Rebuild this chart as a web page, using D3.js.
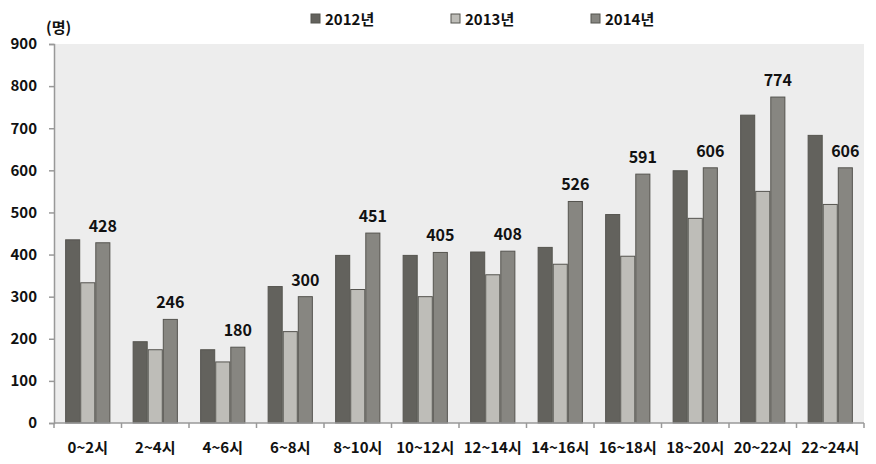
<!DOCTYPE html>
<html><head><meta charset="utf-8">
<script src="https://cdn.jsdelivr.net/npm/d3@7"></script>
<style>body{margin:0;background:#fff}svg{display:block}text{font-family:"Noto Sans CJK KR","Noto Sans",sans-serif;font-weight:bold;fill:#111}</style>
</head><body><svg id="c" width="876" height="464"></svg>
<script>
const categories=["0~2시","2~4시","4~6시","6~8시","8~10시","10~12시","12~14시","14~16시","16~18시","18~20시","20~22시","22~24시"];
const seriesNames=["2012년","2013년","2014년"];
const v2012=[435,193,174,324,398,398,406,417,495,599,731,683];
const v2013=[333,174,145,217,317,300,352,377,396,486,550,519];
const v2014=[428,246,180,300,451,405,408,526,591,606,774,606];
const yTicks=[0,100,200,300,400,500,600,700,800,900];
const colors=["#63625d","#bebdb8","#878681"];
const series=[v2012,v2013,v2014];

const svg=d3.select("#c");
const L=54,R=864,T=44,B=423;
const x=d3.scaleBand().domain(categories).range([L,R]).paddingInner(0.33).paddingOuter(0.165);
const band=d3.scaleBand().domain(d3.range(3)).range([0,x.bandwidth()]);
const y=d3.scaleLinear().domain([0,900]).range([B,T]);

svg.append("rect").attr("x",L).attr("y",T).attr("width",R-L).attr("height",B-T).attr("fill","#ededed");

// bars
const g=svg.append("g");
categories.forEach((c,i)=>{
  series.forEach((s,k)=>{
    g.append("rect").attr("x",x(c)+band(k)+0.5).attr("y",y(s[i])).attr("width",band.bandwidth()-1)
     .attr("height",B-y(s[i])).attr("fill",colors[k]).attr("stroke","#55544f").attr("stroke-width",1);
  });
  svg.append("text").attr("x",x(c)+band(2)+band.bandwidth()/2).attr("y",y(v2014[i])-11)
    .attr("text-anchor","middle").attr("font-size",16).text(v2014[i]);
});

// y axis
const ya=svg.append("g").attr("transform",`translate(${L},0)`)
  .call(d3.axisLeft(y).tickValues(yTicks).tickSize(5).tickPadding(12));
ya.select(".domain").attr("stroke","#999").attr("stroke-width",1.5);
ya.selectAll(".tick line").attr("stroke","#999").attr("stroke-width",1.5);
ya.selectAll(".tick text").attr("font-size",15).attr("font-family",'"Noto Sans CJK KR",sans-serif').attr("font-weight","bold").attr("fill","#111");

// x axis
const step=x.step();
const bounds=d3.range(categories.length+1).map(i=>L+i*(R-L)/categories.length);
svg.append("line").attr("x1",L).attr("x2",R).attr("y1",B).attr("y2",B).attr("stroke","#999").attr("stroke-width",1.5);
svg.selectAll(".xt").data(bounds).enter().append("line").attr("x1",d=>d).attr("x2",d=>d).attr("y1",B).attr("y2",B+5).attr("stroke","#999").attr("stroke-width",1.5);
const xa=svg.append("g").attr("transform",`translate(0,${B})`).call(d3.axisBottom(x).tickSize(0).tickPadding(19));
xa.select(".domain").remove();
xa.selectAll(".tick text").attr("font-size",15).attr("font-family",'"Noto Sans CJK KR",sans-serif').attr("font-weight","bold").attr("fill","#111");

// unit label
svg.append("text").attr("x",46).attr("y",33).attr("font-size",15).text("(명)");

// legend
const lx=[311,451,591];
seriesNames.forEach((n,k)=>{
  svg.append("rect").attr("x",lx[k]).attr("y",14).attr("width",9).attr("height",9).attr("fill",colors[k]).attr("stroke","#55544f");
  svg.append("text").attr("x",lx[k]+14).attr("y",25).attr("font-size",15).text(n);
});
</script></body></html>
